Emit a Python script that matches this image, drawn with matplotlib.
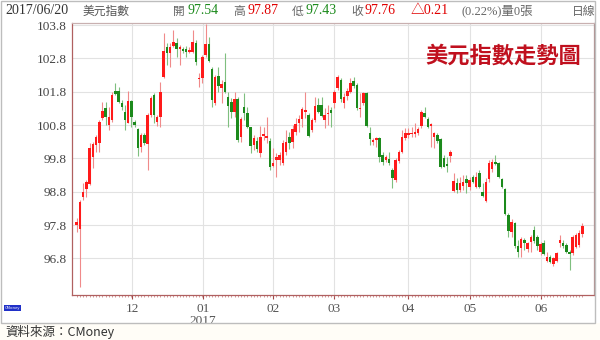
import matplotlib
matplotlib.use("Agg")
import matplotlib.pyplot as plt
from matplotlib.patches import Rectangle
import numpy as np

plt.rcParams['font.family'] = ['Noto Sans CJK TC', 'DejaVu Sans']

# daily candles, 2016/11 - 2017/06/20
opens = [97.80, 97.67, 98.65, 98.87, 99.03, 99.83, 100.20, 100.27, 101.00, 101.30, 100.80, 100.95, 101.83, 101.83, 101.45, 101.20,
         100.87, 101.52, 100.90, 100.67, 100.15, 100.50, 100.22, 101.10, 101.70, 100.90, 101.05, 102.25, 103.15, 102.97, 103.17,
         103.27, 103.07, 103.08, 103.08, 102.98, 103.00, 103.25, 102.17, 102.20, 102.90, 103.22, 102.47, 101.45, 102.27, 101.90,
         102.08, 101.65, 101.50, 101.20, 101.58, 100.45, 101.35, 101.17, 100.73, 100.20, 100.33, 99.95, 100.47, 100.40, 100.33, 99.58,
         99.75, 99.75, 99.65, 100.00, 100.45, 100.30, 100.60, 100.87, 100.97, 101.20, 101.10, 100.65, 100.95, 101.40, 101.40, 100.95,
         101.12, 101.25, 101.45, 101.90, 102.15, 101.45, 101.67, 101.80, 102.13, 102.00, 101.27, 101.45, 101.77, 100.55, 100.30,
         100.35, 100.40, 99.90, 99.75, 99.78, 99.45, 99.15, 99.73, 100.00, 100.40, 100.50, 100.53, 100.52, 100.55, 100.77, 101.17,
         100.97, 100.78, 100.45, 100.50, 100.37, 99.80, 99.63, 99.88, 98.83, 99.07, 98.85, 98.97, 99.17, 98.95, 99.23,
         98.95, 99.35, 98.80, 98.53, 99.17, 99.47, 99.70, 99.67, 99.17, 98.87, 98.10, 97.60, 97.85, 97.17, 97.10, 97.35, 97.07,
         97.30, 97.65, 97.43, 97.00, 97.25, 96.73, 96.83, 96.63, 96.73, 97.27, 97.27, 97.20, 97.00, 96.95, 97.15, 97.20, 97.54]
highs = [98.00, 98.55, 99.07, 99.15, 100.25, 100.30, 100.50, 100.95, 101.50, 101.50, 101.35, 101.80, 102.07, 101.95, 101.55, 101.40,
         101.83, 101.55, 100.95, 100.70, 100.55, 100.55, 101.15, 101.67, 101.75, 101.10, 102.10, 103.57, 103.25, 103.25, 103.65,
         103.40, 103.20, 103.15, 103.17, 103.13, 103.65, 103.35, 102.35, 102.90, 103.83, 103.45, 102.55, 102.30, 102.55, 102.15,
         102.95, 101.80, 101.60, 101.80, 101.65, 101.05, 101.75, 101.35, 100.75, 100.50, 100.45, 100.77, 100.75, 101.05, 100.40, 100.10,
         99.95, 100.00, 100.35, 100.65, 100.60, 100.80, 101.00, 101.10, 101.35, 101.80, 101.15, 101.00, 101.65, 101.60, 101.65, 101.30,
         101.40, 101.35, 101.85, 102.30, 102.20, 101.75, 101.90, 102.20, 102.25, 102.05, 101.75, 101.80, 101.80, 100.75, 100.40,
         100.45, 100.45, 100.00, 99.90, 100.00, 99.50, 99.80, 100.05, 100.65, 100.70, 100.70, 100.75, 100.85, 100.75, 101.25, 101.35,
         101.05, 100.85, 100.60, 100.55, 100.40, 99.90, 99.85, 100.05, 99.35, 99.20, 99.23, 99.30, 99.30, 99.25, 99.30,
         99.40, 99.45, 99.05, 99.20, 99.75, 99.77, 99.90, 99.70, 99.20, 98.90, 98.15, 97.97, 97.90, 97.35, 97.45, 97.40, 97.30,
         97.50, 97.77, 97.50, 97.30, 97.35, 97.00, 96.90, 96.85, 97.00, 97.50, 97.35, 97.25, 97.05, 97.50, 97.55, 97.65, 97.87]
lows = [97.60, 95.95, 98.55, 98.65, 99.00, 99.50, 100.00, 100.00, 100.95, 100.80, 100.65, 100.90, 101.70, 101.45, 101.25, 100.65,
        100.85, 100.75, 100.75, 99.87, 100.00, 100.20, 99.45, 101.05, 100.85, 100.77, 100.75, 102.20, 102.60, 102.55, 103.15,
        102.85, 102.60, 102.95, 102.85, 102.95, 102.95, 102.60, 101.95, 102.05, 102.85, 102.70, 101.35, 101.40, 101.80, 101.45,
        101.75, 100.75, 101.00, 101.05, 100.30, 100.30, 100.95, 100.70, 99.95, 100.05, 100.00, 99.85, 100.35, 100.25, 99.45, 99.55,
        99.25, 99.60, 99.60, 99.90, 100.07, 100.10, 100.50, 100.60, 100.75, 101.00, 100.45, 100.60, 100.90, 101.15, 101.05, 100.70,
        100.80, 100.75, 101.30, 101.85, 101.50, 101.30, 101.55, 101.75, 101.90, 101.25, 101.05, 101.40, 100.75, 100.20, 100.20,
        100.15, 99.70, 99.60, 99.70, 99.60, 98.90, 99.10, 99.65, 99.95, 100.35, 100.40, 100.45, 100.45, 100.50, 100.70, 101.00,
        100.70, 100.15, 100.10, 100.25, 99.50, 99.53, 99.40, 99.70, 98.80, 98.75, 98.80, 98.85, 98.75, 98.85, 99.05,
        98.90, 98.90, 98.65, 98.50, 99.10, 99.40, 99.60, 99.20, 98.90, 98.10, 97.45, 97.45, 97.10, 96.85, 96.83, 97.05, 97.00,
        97.00, 97.25, 97.05, 96.90, 96.90, 96.70, 96.65, 96.57, 96.70, 97.15, 97.10, 96.95, 96.45, 96.90, 97.10, 97.15, 97.43]
closes = [97.90, 98.50, 98.80, 99.08, 100.12, 100.23, 100.43, 100.90, 101.23, 101.05, 101.05, 101.70, 101.73, 101.50, 101.35, 100.95,
          101.52, 101.05, 100.80, 100.12, 100.50, 100.25, 101.10, 101.60, 101.10, 101.05, 101.80, 103.03, 102.97, 103.15, 103.30,
          103.07, 103.13, 103.03, 102.98, 103.05, 103.30, 102.70, 102.22, 102.83, 103.22, 102.73, 101.55, 102.23, 101.97, 102.03,
          101.80, 101.37, 101.20, 101.58, 100.35, 100.97, 101.15, 100.75, 100.17, 100.40, 100.07, 100.43, 100.53, 100.47, 99.55, 99.65,
          99.83, 99.90, 100.27, 100.30, 100.27, 100.68, 100.83, 100.97, 101.27, 101.25, 100.47, 100.95, 101.37, 101.20, 101.07, 101.10,
          101.17, 101.15, 101.78, 102.23, 101.57, 101.65, 101.83, 102.07, 101.97, 101.30, 101.32, 101.77, 100.77, 100.37, 100.35,
          100.42, 99.85, 99.70, 99.85, 99.67, 99.20, 99.75, 100.00, 100.45, 100.55, 100.55, 100.57, 100.60, 100.67, 101.20, 101.05,
          100.75, 100.83, 100.57, 100.33, 99.53, 99.55, 99.57, 100.00, 99.13, 98.85, 99.05, 99.10, 99.07, 99.15, 99.10,
          99.23, 98.95, 98.67, 99.10, 99.67, 99.70, 99.63, 99.23, 98.93, 98.13, 97.63, 97.90, 97.17, 97.00, 97.37, 97.27, 97.25,
          97.45, 97.33, 97.17, 97.23, 96.93, 96.83, 96.70, 96.80, 96.95, 97.35, 97.17, 97.00, 96.93, 97.45, 97.50, 97.55, 97.76]

month_labels = ['12', '01\n2017', '02', '03', '04', '05', '06']
month_pos = [17.2, 39.2, 61, 79.9, 102.9, 122.1, 144.2]
y_ticks = [96.8, 97.8, 98.8, 99.8, 100.8, 101.8, 102.8, 103.8]

W, H = 600, 340
fig = plt.figure(figsize=(6, 3.4), dpi=100)
ax = fig.add_axes([72 / W, (H - 295) / H, (594 - 72) / W, (295 - 23) / H])

up_c, dn_c = '#ff1a1a', '#1c8a1c'
up_w, dn_w = '#f08a8a', '#7fbf7f'
o = np.array(opens); c = np.array(closes)
x = np.arange(len(o))
up = c >= o
ax.vlines(x[up], np.array(lows)[up], np.array(highs)[up], color=up_w, lw=0.8, zorder=2)
ax.vlines(x[~up], np.array(lows)[~up], np.array(highs)[~up], color=dn_w, lw=0.8, zorder=2)
bot = np.minimum(o, c)
hgt = np.maximum(np.abs(c - o), 0.04)
ax.bar(x[up], hgt[up], bottom=bot[up], width=0.78, color=up_c, lw=0, zorder=3)
ax.bar(x[~up], hgt[~up], bottom=bot[~up], width=0.78, color=dn_c, lw=0, zorder=3)

ax.set_xlim(-1.46, 160.6)
ax.set_ylim(95.70, 103.86)
ax.set_yticks(y_ticks)
ax.set_yticklabels([f"{v:.1f}" for v in y_ticks], family='Liberation Serif', fontsize=9.5, color='#444444')
ax.set_xticks(month_pos)
ax.set_xticklabels(month_labels, family='Liberation Serif', fontsize=9.5, color='#555555', linespacing=0.95)
ax.set_xticks(x, minor=True)
ax.tick_params(axis='x', which='major', length=3, color='#a04848', pad=3)
ax.tick_params(axis='x', which='minor', length=1.5, color='#c07070', width=0.5)
ax.tick_params(axis='y', length=0, pad=4)
ax.grid(True, which='major', color='#e2e2e2', lw=0.8, zorder=0)
for s in ax.spines.values():
    s.set_color('#b06060')
    s.set_linewidth(0.9)
ax.spines['top'].set_color('#c8b0b0')
ax.spines['right'].set_color('#b09090')

ax.text(0.975, 0.88, '美元指數走勢圖', transform=ax.transAxes, ha='right', va='center',
        fontsize=16, fontweight='bold', color='#c0101e')

# outer frame and header
fig.add_artist(Rectangle((1 / W, (H - 323) / H), 594 / W, 322 / H, transform=fig.transFigure,
                         fill=False, ec='#bdbdbd', lw=1))
fig.add_artist(Rectangle((0, 0), 1, (H - 323) / H, transform=fig.transFigure, fc='#fffdf7', ec='none', zorder=-1))

hy = 1 - 11 / H
serif = ['Liberation Serif', 'Noto Sans CJK TC']
head = [(5, '2017/06/20', '#333333', serif, 10), (83, '美元指數', '#555555', None, 8.5),
        (173, '開', '#666666', None, 8.5), (187, '97.54', '#1c8a1c', serif, 10),
        (233, '高', '#666666', None, 8.5), (247, '97.87', '#e00000', serif, 10),
        (292, '低', '#666666', None, 8.5), (306, '97.43', '#1c8a1c', serif, 10),
        (351, '收', '#666666', None, 8.5), (365, '97.76', '#e00000', serif, 10),
        (411, '△0.21', '#e00000', serif, 10), (461, '(0.22%)量0張', '#666666', serif, 9),
        (572, '日線', '#666666', None, 8.5)]
for hx, t, col, fam, fs in head:
    fig.text(hx / W, hy, t, ha='left', va='center', fontsize=fs, color=col,
             family=fam if fam else ['Noto Sans CJK TC'])

fig.text(5 / W, 1 - 308 / H, 'CMoney', fontsize=3, color='white', va='center', ha='left',
         bbox=dict(boxstyle='square,pad=0.2', fc='#2030c8', ec='none'))
fig.text(5 / W, 1 - 332 / H, '資料來源：CMoney', fontsize=9, color='#333333', va='center', ha='left')

fig.savefig('out.png', dpi=100)
